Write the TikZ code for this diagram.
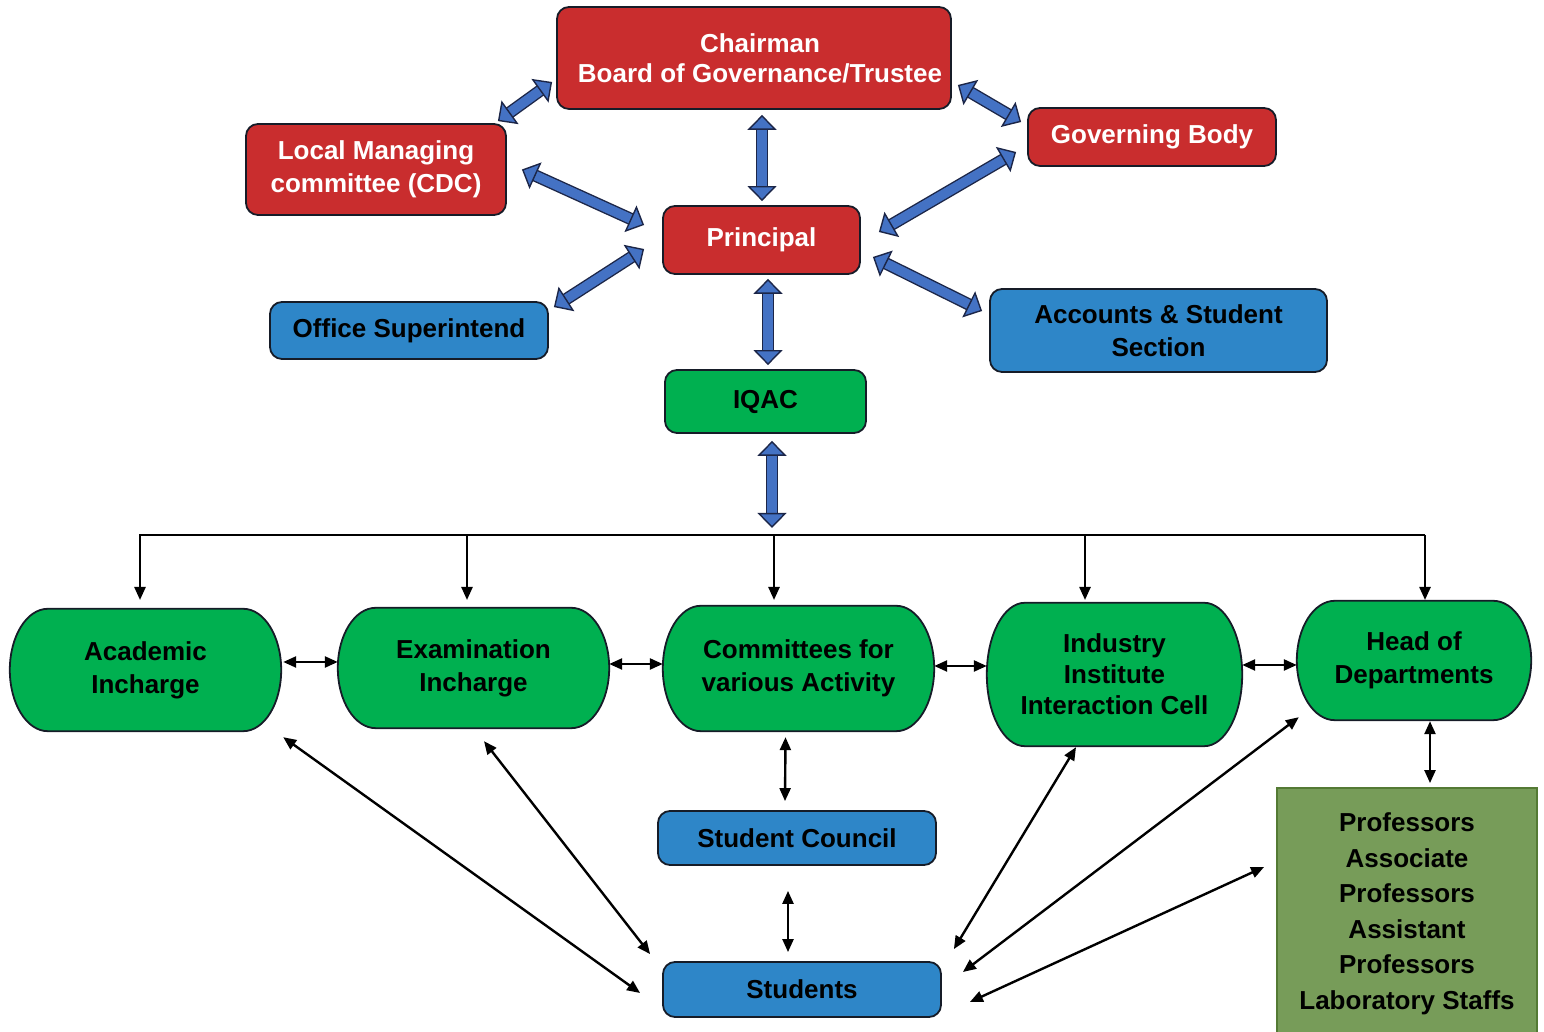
\documentclass[tikz,border=0pt]{standalone}
\usepackage{fontspec}
\setmainfont{Liberation Sans}
\usetikzlibrary{arrows.meta,calc,backgrounds}

\definecolor{boxred}{RGB}{201,45,46}
\definecolor{boxblue}{RGB}{46,134,200}
\definecolor{pillgreen}{RGB}{0,176,80}
\definecolor{profgreen}{RGB}{119,156,89}
\definecolor{profline}{RGB}{84,122,52}
\definecolor{arrblue}{RGB}{68,114,196}
\definecolor{arrline}{RGB}{28,38,72}
\definecolor{boxline}{RGB}{22,28,40}

\tikzset{
	box/.style={draw=boxline, line width=1.8pt, rounded corners=12pt, inner sep=0pt, align=center, font=\bfseries\fontsize{26}{33}\selectfont},
	redbox/.style={box, fill=boxred, text=white},
	bluebox/.style={box, fill=boxblue, text=black},
	greenbox/.style={box, fill=pillgreen, text=black},
	pilltext/.style={inner sep=0pt, align=center, font=\bfseries\fontsize{26}{33}\selectfont},
	pill/.style={draw=boxline, line width=1.8pt, fill=pillgreen},
	profbox/.style={draw=profline, line width=1.8pt, fill=profgreen, inner sep=0pt, align=center, font=\bfseries\fontsize{26}{35.5}\selectfont},
	bigarr/.style={draw=arrblue, line width=9.5pt,
		{Triangle[length=15pt,width=29pt,line width=1.4pt,color=arrline,fill=arrblue]}-{Triangle[length=15pt,width=29pt,line width=1.4pt,color=arrline,fill=arrblue]},
		preaction={draw=arrline, line width=12.3pt, shorten >=9pt, shorten <=9pt, arrows=-}},
	thinarr/.style={line width=2.4pt, {Triangle[length=13pt,width=11pt]}-{Triangle[length=13pt,width=11pt]}},
	drop/.style={line width=2.4pt, -{Triangle[length=13pt,width=11pt]}}
}

\begin{document}
\begin{tikzpicture}[x=1pt,y=1pt]
	\useasboundingbox (0,0) rectangle (1544,1032);
	
	\node[redbox, minimum width=394pt, minimum height=102pt] (chair) at (754,974) {\hspace*{12pt}Chairman\\[-3pt]\hspace*{12pt}Board of Governance/Trustee};
	\node[redbox, minimum width=260pt, minimum height=91pt] (lmc) at (376,862.5) {Local Managing\\committee (CDC)};
	\node[redbox, minimum width=248pt, minimum height=58pt] (govb) at (1152,895) {Governing Body};
	\node[redbox, minimum width=197pt, minimum height=68pt] (prin) at (761.5,792) {Principal};
	\node[bluebox, minimum width=278pt, minimum height=57pt] (office) at (409,701.5) {Office Superintend};
	\node[bluebox, minimum width=337pt, minimum height=83pt] (acct) at (1158.5,701.5) {Accounts \& Student\\Section};
	\node[greenbox, minimum width=201pt, minimum height=63pt] (iqac) at (765.5,630.5) {IQAC};
	
	\coordinate (busL) at (139,497);
	\coordinate (busR) at (1425,497);
	
	\node[pilltext, minimum width=271pt, minimum height=122pt] (acad) at (145.5,362) {Academic\\Incharge};
	\node[pilltext, minimum width=271pt, minimum height=120pt] (exam) at (473.5,364) {Examination\\Incharge};
	\node[pilltext, minimum width=271pt, minimum height=125pt] (comm) at (798.5,363.5) {Committees for\\various Activity};
	\node[pilltext, minimum width=255pt, minimum height=143pt] (iiic) at (1114.5,357.5) {Industry\\[-2pt]Institute\\[-2pt]Interaction Cell};
	\node[pilltext, minimum width=234pt, minimum height=119pt] (hod) at (1414,371.5) {Head of\\Departments};
	
	\node[bluebox, minimum width=278pt, minimum height=54pt] (scouncil) at (797,194) {Student Council};
	\node[bluebox, minimum width=278pt, minimum height=55pt] (students) at (802,42.5) {Students};
	\node[profbox, minimum width=260pt, minimum height=252pt] (prof) at (1407,118) {Professors\\Associate\\Professors\\Assistant\\Professors\\Laboratory Staffs};
	
	\begin{pgfonlayer}{background}
		\foreach \nd in {acad,exam,comm,iiic,hod}
			\draw[pill] let \p1=(\nd.north west), \p2=(\nd.south east), \n1={scalar((\y1-\y2)/2)} in
				(\x1+38pt,\y1) -- (\x2-38pt,\y1) arc[start angle=90, end angle=-90, x radius=38pt, y radius=\n1 pt]
				-- (\x1+38pt,\y2) arc[start angle=-90, end angle=-270, x radius=38pt, y radius=\n1 pt] -- cycle;
	\end{pgfonlayer}
	
	\draw[bigarr] ($(chair.west)+(-4,-24)$) -- ($(lmc.north east)+(-9,2)$);
	\draw[bigarr] ($(chair.east)+(6,-27)$) -- ($(govb.west)+(-6,15)$);
	\draw[bigarr] ($(chair.south -| prin.north)+(0.5,-5)$) -- ($(prin.north)+(0.5,4)$);
	\draw[bigarr] ($(lmc.east)+(15,0)$) -- ($(prin.west)+(-18,15)$);
	\draw[bigarr] ($(govb.west)+(-11,-15)$) -- ($(prin.east)+(18,8)$);
	\draw[bigarr] ($(office.north east)+(5,-6)$) -- ($(prin.west)+(-18,-9)$);
	\draw[bigarr] ($(prin.east)+(12,-17)$) -- ($(acct.west)+(-7,19.5)$);
	\draw[bigarr] ($(prin.south)+(6.5,-4)$) -- ($(iqac.north)+(2.5,4)$);
	\draw[bigarr] ($(iqac.south)+(6.5,-7)$) -- ($(busL -| iqac.south)+(6.5,7)$);
	
	\draw[line width=2.5pt] (busL) -- (busR);
	\foreach \nd/\dx in {acad/-5.5, exam/-6.5, comm/-24.5, iiic/-29.5, hod/11}
		\draw[drop] ($(busL -| \nd.north)+(\dx,0)$) -- ($(busL -| \nd.north)+(\dx,-65)$);
	
	\draw[thinarr] ($(acad.east)+(2,8)$) -- ($(exam.west)+(0,6)$);
	\draw[thinarr] ($(exam.east)+(0,4)$) -- ($(comm.west)+(0,4.5)$);
	\draw[thinarr] ($(comm.east)+(0,2.5)$) -- ($(iiic.west)+(0,8.5)$);
	\draw[thinarr] ($(iiic.east)+(0,9.5)$) -- ($(hod.west)+(0,-4.5)$);
	\draw[thinarr] ($(comm.south)+(-13,-6)$) -- ($(scouncil.north)+(-12,9)$);
	\draw[thinarr] ($(scouncil.south)+(-9,-25)$) -- ($(students.north)+(-14,9)$);
	\draw[thinarr] ($(acad.south east)+(2,-6)$) -- ($(students.west)+(-22,-3.5)$);
	\draw[thinarr] ($(exam.south)+(10.5,-13)$) -- ($(students.north west)+(-12,7)$);
	\draw[thinarr] ($(iiic.south)+(-38.5,-1)$) -- ($(students.north east)+(12,12)$);
	\draw[thinarr] ($(hod.south west)+(2,3)$) -- ($(students.east)+(21,17.5)$);
	\draw[thinarr] ($(prof.west)+(-12,47)$) -- ($(students.east)+(28,-12.5)$);
	\draw[thinarr] ($(hod.south)+(16,-1)$) -- ($(prof.north)+(23,4)$);
\end{tikzpicture}
\end{document}
